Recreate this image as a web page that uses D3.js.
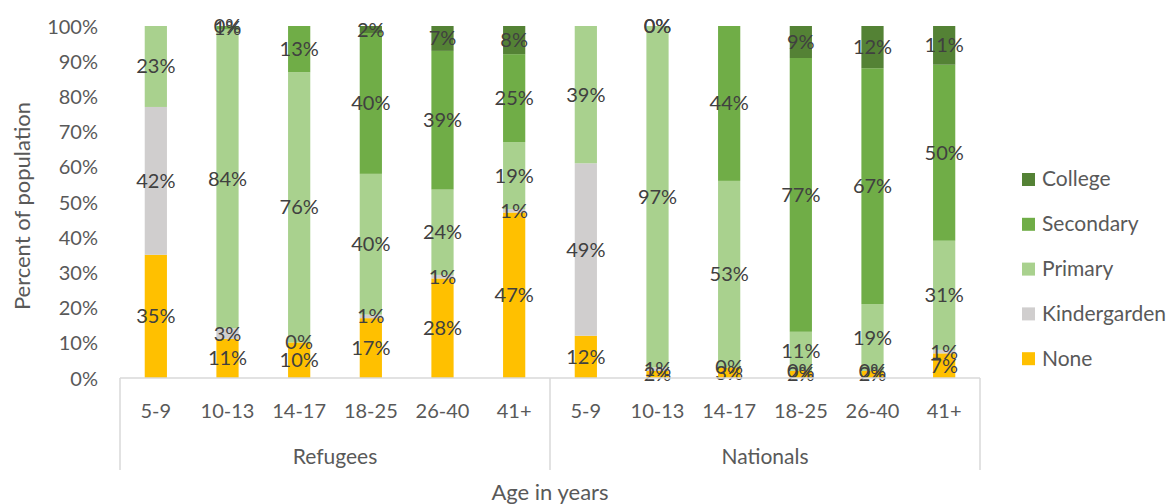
<!DOCTYPE html>
<html>
<head>
<meta charset="utf-8">
<script src="https://cdn.jsdelivr.net/npm/d3@7"></script>
<style>
  body { margin: 0; background: #fff; }
  text { font-family: Lato, "Open Sans", sans-serif; }
</style>
</head>
<body>
<div id="chart"></div>
<script>
const groups = ["Refugees", "Nationals"];
const ages = ["5-9", "10-13", "14-17", "18-25", "26-40", "41+"];
const levels = ["None", "Kindergarden", "Primary", "Secondary", "College"];

// values in percent, per age band; null = not reported
const refNone      = [35, 11, 10, 17, 28, 47];
const refKinder    = [42, 3, 0, 1, 1, 1];
const refPrimary   = [23, 84, 76, 40, 24, 19];
const refSecondary = [null, 1, 13, 40, 39, 25];
const refCollege   = [null, 0, null, 2, 7, 8];

const natNone      = [12, 2, 3, 2, 2, 7];
const natKinder    = [49, 1, 0, 0, 0, 1];
const natPrimary   = [39, 97, 53, 11, 19, 31];
const natSecondary = [null, 0, 44, 77, 67, 50];
const natCollege   = [null, 0, null, 9, 12, 11];

const yTicks = [0, 0.1, 0.2, 0.3, 0.4, 0.5, 0.6, 0.7, 0.8, 0.9, 1];

const colors = {
  None: "#FFC000",
  Kindergarden: "#D0CECE",
  Primary: "#A9D18E",
  Secondary: "#70AD47",
  College: "#548235"
};

const series = {
  Refugees: { None: refNone, Kindergarden: refKinder, Primary: refPrimary, Secondary: refSecondary, College: refCollege },
  Nationals: { None: natNone, Kindergarden: natKinder, Primary: natPrimary, Secondary: natSecondary, College: natCollege }
};

const rows = [];
groups.forEach(g => {
  ages.forEach((a, i) => {
    const row = { key: g + "|" + a, group: g, age: a };
    levels.forEach(l => { row[l] = series[g][l][i]; });
    rows.push(row);
  });
});

const width = 1174, height = 504;
const margin = { top: 26, left: 120, right: 194, bottom: 126 };
const plotBottom = height - margin.bottom;
const textColor = "#595959";

const svg = d3.select("#chart").append("svg")
  .attr("width", width)
  .attr("height", height);

const x = d3.scaleBand()
  .domain(rows.map(d => d.key))
  .range([margin.left, width - margin.right])
  .paddingInner(0.69)
  .paddingOuter(0.345);

const y = d3.scaleLinear()
  .domain([0, 1])
  .range([plotBottom, margin.top]);

const stacked = d3.stack()
  .keys(levels)
  .value((d, k) => d[k] == null ? 0 : d[k])
  .offset(d3.stackOffsetExpand)(rows);

// y axis
const yAxis = svg.append("g")
  .attr("transform", `translate(${margin.left - 22},0)`)
  .call(d3.axisLeft(y).tickValues(yTicks).tickFormat(d3.format(".0%")).tickSize(0));
yAxis.select(".domain").remove();
yAxis.selectAll("text")
  .style("font-size", "20px")
  .style("fill", textColor)
  .attr("x", 0)
  .attr("dy", "0.35em");

svg.append("text")
  .attr("transform", `translate(22,${(margin.top + plotBottom) / 2 + 4}) rotate(-90)`)
  .attr("dy", "0.35em")
  .attr("text-anchor", "middle")
  .style("font-size", "22px")
  .style("fill", textColor)
  .text("Percent of population");

// bars
const layer = svg.selectAll(".layer")
  .data(stacked)
  .enter()
  .append("g")
  .attr("fill", d => colors[d.key]);

layer.selectAll("rect")
  .data(d => d)
  .enter()
  .append("rect")
  .attr("x", d => x(d.data.key))
  .attr("y", d => y(d[1]))
  .attr("width", x.bandwidth())
  .attr("height", d => y(d[0]) - y(d[1]));

// value labels
stacked.forEach(s => {
  svg.append("g").selectAll("text")
    .data(s.filter(d => d.data[s.key] != null))
    .enter()
    .append("text")
    .attr("x", d => x(d.data.key) + x.bandwidth() / 2)
    .attr("y", d => y((d[0] + d[1]) / 2))
    .attr("dy", "0.35em")
    .attr("text-anchor", "middle")
    .style("font-size", "20px")
    .style("fill", "#404040")
    .text(d => d.data[s.key] + "%");
});

// category axis box
const axisColor = "#d9d9d9";
const boxBottom = 470;
svg.append("line")
  .attr("x1", margin.left).attr("x2", width - margin.right)
  .attr("y1", plotBottom).attr("y2", plotBottom)
  .attr("stroke", axisColor).attr("stroke-width", 1.5);

// separator sits halfway between the last refugee bar and the first national bar
const groupEdges = [
  margin.left,
  (x(rows[ages.length - 1].key) + x(rows[ages.length].key) + x.bandwidth()) / 2,
  width - margin.right
];

groupEdges.forEach(ex => {
  svg.append("line")
    .attr("x1", ex).attr("x2", ex)
    .attr("y1", plotBottom).attr("y2", boxBottom)
    .attr("stroke", axisColor).attr("stroke-width", 1.5);
});

svg.append("g").selectAll("text")
  .data(rows)
  .enter()
  .append("text")
  .attr("x", d => x(d.key) + x.bandwidth() / 2)
  .attr("y", 411)
  .attr("dy", "0.35em")
  .attr("text-anchor", "middle")
  .style("font-size", "20px")
  .style("fill", textColor)
  .text(d => d.age);

svg.append("g").selectAll("text")
  .data(groups)
  .enter()
  .append("text")
  .attr("x", (d, i) => (groupEdges[i] + groupEdges[i + 1]) / 2)
  .attr("y", 457)
  .attr("dy", "0.35em")
  .attr("text-anchor", "middle")
  .style("font-size", "21px")
  .style("fill", textColor)
  .text(d => d);

svg.append("text")
  .attr("x", (margin.left + width - margin.right) / 2)
  .attr("y", 492)
  .attr("dy", "0.35em")
  .attr("text-anchor", "middle")
  .style("font-size", "22px")
  .style("fill", textColor)
  .text("Age in years");

// legend
const legendItems = levels.slice().reverse();
const legend = svg.append("g")
  .selectAll("g")
  .data(legendItems)
  .enter()
  .append("g")
  .attr("transform", (d, i) => `translate(1022,${179 + i * 44.8})`);

legend.append("rect")
  .attr("x", 0).attr("y", -6)
  .attr("width", 13).attr("height", 13)
  .attr("fill", d => colors[d]);

legend.append("text")
  .attr("x", 20)
  .attr("dy", "0.35em")
  .style("font-size", "21px")
  .style("fill", textColor)
  .text(d => d);
</script>
</body>
</html>
